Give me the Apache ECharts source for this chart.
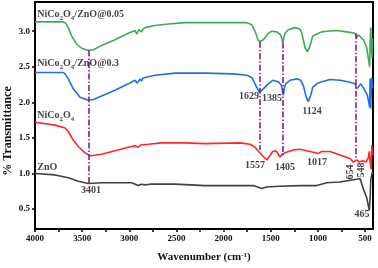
<!DOCTYPE html>
<html><head><meta charset="utf-8">
<script src="https://cdn.jsdelivr.net/npm/echarts@6/dist/echarts.min.js"></script>
<style>html,body{margin:0;padding:0;background:#fff}#c{width:378px;height:268px}</style>
</head><body><div id="c"></div>
<script>
const xTickLabels = [4000, 3500, 3000, 2500, 2000, 1500, 1000, 500];
const xTicks = [4000,3750,3500,3250,3000,2750,2500,2250,2000,1750,1500,1250,1000,750,500];
const yTickLabels = [0.5, 1.0, 1.5, 2.0, 2.5, 3.0];

const seriesNames = ['NiCo2O4/ZnO@0.05', 'NiCo2O4/ZnO@0.3', 'NiCo2O4', 'ZnO'];

const green = [[4000,3.13],[3703,3.13],[3680,3.12],[3647,3.05],[3611,2.93],[3558,2.82],[3505,2.76],[3435,2.73],[3380,2.74],[3293,2.80],[3152,2.88],[3011,2.97],[2940,3.01],[2920,2.96],[2900,3.02],[2885,3.03],[2870,2.99],[2855,3.03],[2833,3.05],[2727,3.08],[2586,3.10],[2409,3.12],[2250,3.12],[2000,3.12],[1755,3.12],[1702,3.09],[1667,3.00],[1640,2.90],[1621,2.85],[1600,2.86],[1579,2.88],[1526,2.97],[1490,3.00],[1437,2.99],[1395,2.95],[1380,2.88],[1373,2.84],[1360,2.92],[1349,2.97],[1314,3.02],[1243,3.05],[1190,3.03],[1172,2.98],[1137,2.77],[1112,2.71],[1084,2.79],[1055,2.93],[1013,2.96],[960,2.99],[907,3.00],[800,3.01],[695,2.99],[607,2.97],[589,2.91],[571,2.95],[553,2.97],[518,2.88],[483,2.77],[458,2.55],[452,2.50],[445,2.90],[440,3.05],[435,2.80],[426,2.62],[420,2.90]];
const blue = [[4000,2.42],[3703,2.42],[3680,2.40],[3647,2.33],[3594,2.19],[3523,2.07],[3435,2.03],[3380,2.04],[3293,2.09],[3152,2.17],[3011,2.26],[2940,2.31],[2915,2.27],[2900,2.30],[2885,2.33],[2870,2.30],[2855,2.34],[2833,2.35],[2727,2.38],[2515,2.41],[2197,2.41],[1900,2.40],[1755,2.38],[1702,2.35],[1667,2.26],[1640,2.19],[1621,2.14],[1600,2.16],[1579,2.19],[1526,2.26],[1480,2.31],[1420,2.29],[1388,2.24],[1367,2.10],[1355,2.20],[1342,2.26],[1296,2.31],[1225,2.33],[1183,2.31],[1155,2.24],[1126,2.08],[1102,2.01],[1077,2.10],[1055,2.21],[1013,2.26],[960,2.29],[872,2.32],[766,2.31],[678,2.29],[607,2.26],[589,2.19],[564,2.23],[546,2.26],[511,2.19],[476,2.10],[458,1.98],[452,1.93],[447,2.33],[440,1.91],[430,2.35],[420,2.20]];
const red = [[4000,1.72],[3788,1.68],[3682,1.64],[3647,1.59],[3594,1.47],[3541,1.38],[3470,1.29],[3417,1.25],[3350,1.26],[3293,1.27],[3152,1.32],[3011,1.37],[2940,1.39],[2905,1.37],[2880,1.40],[2799,1.41],[2656,1.43],[2409,1.43],[2197,1.42],[1826,1.43],[1720,1.41],[1667,1.37],[1596,1.26],[1543,1.19],[1510,1.25],[1480,1.31],[1445,1.32],[1420,1.27],[1402,1.23],[1380,1.27],[1349,1.29],[1261,1.33],[1190,1.34],[1084,1.31],[996,1.28],[960,1.31],[872,1.31],[766,1.26],[660,1.21],[625,1.16],[589,1.19],[561,1.16],[525,1.18],[490,1.16],[466,1.22],[455,1.31],[445,1.15],[435,1.06],[428,1.40],[420,1.25]];
const grey = [[4000,1.00],[3788,0.98],[3647,0.94],[3541,0.89],[3435,0.86],[3293,0.87],[2975,0.87],[2904,0.83],[2870,0.85],[2833,0.84],[2780,0.85],[2515,0.85],[2197,0.83],[1685,0.83],[1596,0.79],[1543,0.81],[1402,0.82],[1190,0.83],[1013,0.83],[907,0.87],[766,0.88],[589,0.92],[553,0.93],[518,0.78],[483,0.66],[466,0.64],[455,0.48],[445,0.70],[440,0.92],[430,0.90],[420,1.03]];

const markerX = [3427, 1621, 1370, 598];
const markerTop = [2.73, 2.85, 2.84, 2.97];
const markerBottom = [0.86, 1.33, 1.25, 1.22];

const peakLabels = ['3401','1629','1385','1124','1557','1405','1017','654','548','465'];
const peakLabelX = [3406, 1731, 1487, 1063, 1667, 1349, 1010, 660, 543, 532];
const peakLabelY = [0.76, 2.08, 2.05, 1.87, 1.12, 1.08, 1.15, 1.02, 1.05, 0.43];
const peakLabelRot = [0,0,0,0,0,0,0,90,90,0];

const nameLabelY = [3.23, 2.54, 1.81, 1.09];
const nameLabelX = 3975;

const FONT = '"Liberation Serif", "Times New Roman", serif';
const colors = ['#3bab5a', '#1f6fe6', '#ff2626', '#404040'];

const richBase = {
  b: {fontFamily: FONT, fontWeight: 'bold', fontSize: 10, color: '#111', lineHeight: 13, verticalAlign: 'middle'},
  s: {fontFamily: FONT, fontWeight: 'bold', fontSize: 7, color: '#111', lineHeight: 7, verticalAlign: 'bottom'}
};
function richName(n) {
  return n.split(/(\d(?=[A-Z\/]|$))/).filter(t => t.length).map((t, i, arr) => {
    return /^\d$/.test(t) && i > 0 && /[a-zA-Z]$/.test(arr[i-1]) ? '{s|' + t + '}' : '{b|' + t + '}';
  }).join('');
}

const chart = echarts.init(document.getElementById('c'), null, {renderer: 'canvas'});
const dataSeries = [green, blue, red, grey].map((d, i) => ({
  type: 'line', data: d, symbol: 'none', silent: true,
  lineStyle: {color: colors[i], width: 1.6}, z: 3
}));

const markLineData = markerX.map((x, i) => [
  {coord: [x, markerTop[i]]}, {coord: [x, markerBottom[i]]}
]);

option = {
  animation: false,
  grid: {left: 35, right: 5, top: 2, bottom: 36, show: true, borderColor: '#000', borderWidth: 2, backgroundColor: 'transparent'},
  xAxis: {
    type: 'value', inverse: true, min: 416, max: 4000,
    name: 'Wavenumber (cm{sup|-1})', nameLocation: 'middle', nameGap: 23,
    nameTextStyle: {fontFamily: FONT, fontWeight: 'bold', fontSize: 11, color: '#111',
      rich: {sup: {fontFamily: FONT, fontWeight: 'bold', fontSize: 7, verticalAlign: 'top', lineHeight: 8, color: '#111'}}},
    axisLine: {lineStyle: {color: '#000', width: 2}},
    axisTick: {customValues: xTicks, length: 3, lineStyle: {color: '#000', width: 1.5}},
    axisLabel: {customValues: xTickLabels, fontFamily: FONT, fontWeight: 'bold', fontSize: 9, color: '#111', margin: 5,
      formatter: v => String(Math.round(v))},
    splitLine: {show: false}
  },
  yAxis: {
    type: 'value', min: 0.22, max: 3.41,
    axisLine: {show: true, lineStyle: {color: '#000', width: 2}},
    axisTick: {show: true, customValues: yTickLabels, length: 3, lineStyle: {color: '#000', width: 1.5}},
    axisLabel: {customValues: yTickLabels, fontFamily: FONT, fontWeight: 'bold', fontSize: 9, color: '#111', margin: 5,
      formatter: v => v.toFixed(1)},
    splitLine: {show: false}
  },
  graphic: [{
    type: 'text', x: 8, y: 131, rotation: Math.PI / 2,
    style: {text: '% Transmittance', textAlign: 'center', textVerticalAlign: 'middle',
      font: 'bold 12px "Liberation Serif", serif', fill: '#111'}
  }],
  series: dataSeries.concat([
    {
      type: 'line', data: [], symbol: 'none', silent: true, z: 4,
      markLine: {
        silent: true, symbol: ['none', 'none'], label: {show: false},
        lineStyle: {color: '#7a1fa0', width: 1.6, type: [6, 2, 1.5, 2]},
        data: markLineData
      }
    },
    {
      type: 'scatter', symbolSize: 0, silent: true, z: 5,
      data: peakLabels.map((t, i) => ({
        value: [peakLabelX[i], peakLabelY[i]],
        label: {show: true, position: 'inside', formatter: t, rotate: peakLabelRot[i],
          fontFamily: FONT, fontWeight: 'bold', fontSize: 10, color: '#111'}
      }))
    },
    {
      type: 'scatter', symbolSize: 0, silent: true, z: 5,
      data: seriesNames.map((n, i) => ({
        value: [nameLabelX, nameLabelY[i]],
        label: {show: true, position: 'right', distance: 0, formatter: richName(n), rich: richBase}
      }))
    }
  ])
};
chart.setOption(option);
</script></body></html>
